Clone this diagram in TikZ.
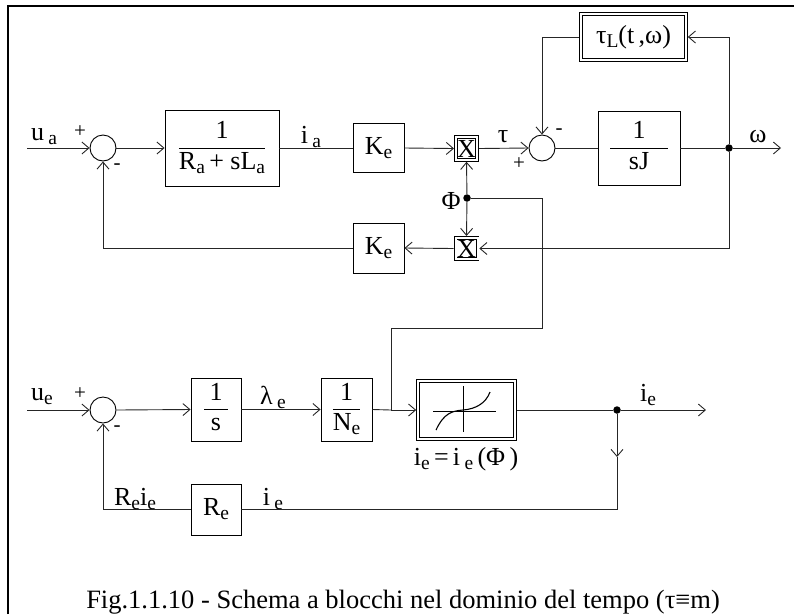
\documentclass[tikz,border=0pt]{standalone}
\usepackage{fontspec}
\setmainfont{Liberation Serif}
\usetikzlibrary{arrows.meta}
\newcommand\lo[1]{\raisebox{-4pt}{\fontsize{19.5}{19.5}\selectfont #1}}
\setlength{\arrayrulewidth}{0.9pt}
\newcommand\fr[3]{\begin{tabular}{@{}c@{}}\makebox[#1]{#2}\\\hline #3\end{tabular}}
\tikzset{
  blk/.style={draw, line width=0.9pt, inner sep=0pt, font=\fontsize{26}{30}\selectfont},
  dblk/.style={blk, double, double distance=2pt, line width=0.8pt, outer sep=1.8pt},
  sumj/.style={circle, draw, line width=0.9pt, minimum size=26pt, inner sep=0pt},
  dotj/.style={circle, fill, inner sep=0pt, minimum size=7.5pt},
  lbl/.style={font=\fontsize{26}{30}\selectfont, inner sep=0pt},
  sgn/.style={font=\fontsize{21}{22}\selectfont, inner sep=0pt},
  wire/.style={line width=0.9pt, draw=black!85},
  arr/.style={wire, -{Straight Barb[length=7pt,width=12pt]}},
}
\begin{document}
\begin{tikzpicture}[x=1pt,y=-1pt]
\useasboundingbox (0,0) rectangle (794,614);
% frame
\draw[line width=1.8pt] (8,614) -- (8,6) -- (794,6);

% ---------- top row ----------
\coordinate (ua) at (27,148);
\node[sumj] (s1) at (103,148) {};
\node[blk, minimum width=114pt, minimum height=76pt] (bA) at (222,148) {\fr{20pt}{1}{R\lo{a}\,+ sL\lo{a}}};
\node[blk, minimum width=51pt, minimum height=49pt] (kA) at (378.5,148) {K\lo{e}};
\node[dblk, minimum width=21.5pt, minimum height=23pt, font=\fontsize{26}{26}\selectfont] (x1) at (466.5,148.5) {X};
\node[sumj] (s2) at (542,148) {};
\node[blk, minimum width=82pt, minimum height=74pt] (bJ) at (639,148) {\raisebox{-8pt}{\fr{58pt}{1}{sJ}}};
\node[dotj] (dW) at (729,148) {};
\coordinate (wEnd) at (781,148);
\node[dblk, minimum width=105pt, minimum height=46pt] (tL) at (633.5,37) {τ\lo{L}(t\,,ω)};

\node[dotj] (phi) at (467,198) {};
\node[dblk, minimum width=22pt, minimum height=21.5pt, font=\fontsize{26}{26}\selectfont] (x2) at (466.5,248.5) {X};
\node[blk, minimum width=51pt, minimum height=50pt] (kB) at (378.5,248) {K\lo{e}};

\coordinate (c1) at (542,198);
\coordinate (c2) at (542,328);
\coordinate (c3) at (391,328);
\coordinate (jn) at (391,410);

% labels top
\node[lbl] (lua) at (44,137) {u\,\lo{a}};
\node[sgn] (p1) at (80,132) {+};
\node[sgn] (m1) at (117,167) {-};
\node[lbl] (lia) at (311,137) {i\,\lo{a}};
\node[lbl] (ltau) at (503,137) {τ};
\node[sgn] (p2) at (519,164) {+};
\node[sgn] (m2) at (559,132) {-};
\node[lbl] (lw) at (758,137) {ω};
\node[lbl] (lphi) at (451,201) {Φ};

% wires top
\draw[arr] (ua) -- (s1.west);
\draw[arr] (s1.east) -- (bA.west);
\draw[wire] (bA.east) -- (kA.west);
\draw[arr] (kA.east) -- (x1.west);
\draw[arr] (x1.east) -- (s2.west);
\draw[wire] (s2.east) -- (bJ.west);
\draw[wire] (bJ.east) -- (dW);
\draw[arr] (dW) -- (wEnd);
\draw[arr] (dW) |- (tL.east);
\draw[arr] (tL.west) -| (s2.north);
\draw[arr] (dW) |- (x2.east);
\draw[arr] (phi) -- (x1.south);
\draw[arr] (phi) -- (x2.north);
\draw[arr] (x2.west) -- (kB.east);
\draw[arr] (kB.west) -| (s1.south);
\draw[wire] (phi) -- (c1) -- (c2) -- (c3) -- (jn);

% ---------- bottom row ----------
\coordinate (ue) at (27,410);
\node[sumj] (s3) at (103,410) {};
\node[blk, minimum width=50pt, minimum height=63pt] (bS) at (216,409.5) {\fr{24pt}{1}{s}};
\node[blk, minimum width=51pt, minimum height=63pt] (bN) at (346.5,409.5) {\fr{24pt}{1}{N\lo{e}}};
\node[dblk, minimum width=97pt, minimum height=58pt] (NL) at (466.5,410) {};
\node[dotj] (dI) at (617,410) {};
\coordinate (ieEnd) at (706,410);
\coordinate (dmid) at (617,457);
\node[blk, minimum width=50pt, minimum height=51pt] (Re) at (216,509.5) {R\lo{e}};

% nonlinearity sketch
\draw[line width=0.9pt] (433,411) -- (496,411);
\draw[line width=0.9pt] (463,386) -- (463,432);
\draw[line width=1.1pt] (436,430) .. controls (444,413) and (452,411) .. (463,410) .. controls (476,409) and (486,403) .. (490,392);

% labels bottom
\node[lbl] (lue) at (42,397) {u\lo{e}};
\node[sgn] (p3) at (80,394) {+};
\node[sgn] (m3) at (117,429) {-};
\node[lbl] (llam) at (273,397) {λ\,\lo{e}};
\node[lbl] (lie) at (648,395) {i\lo{e}};
\node[lbl] (lnl) at (466,459) {i\lo{e}\,=\,i\,\lo{e}\,(Φ\,)};
\node[lbl] (lrei) at (135,499) {R\lo{e}i\lo{e}};
\node[lbl] (lie2) at (273,499) {i\,\lo{e}};

% wires bottom
\draw[arr] (ue) -- (s3.west);
\draw[arr] (s3.east) -- (bS.west);
\draw[arr] (bS.east) -- (bN.west);
\draw[wire] (bN.east) -- (jn);
\draw[arr] (jn) -- (NL.west);
\draw[wire] (NL.east) -- (dI);
\draw[arr] (dI) -- (ieEnd);
\draw[arr] (dI) -- (dmid);
\draw[wire] (dmid) |- (Re.east);
\draw[arr] (Re.west) -| (s3.south);

% caption
\node[lbl, font=\fontsize{26.5}{30}\selectfont, anchor=base] (cap) at (403,608) {Fig.1.1.10 - Schema a blocchi nel dominio del tempo (τ≡m)};
\end{tikzpicture}
\end{document}
